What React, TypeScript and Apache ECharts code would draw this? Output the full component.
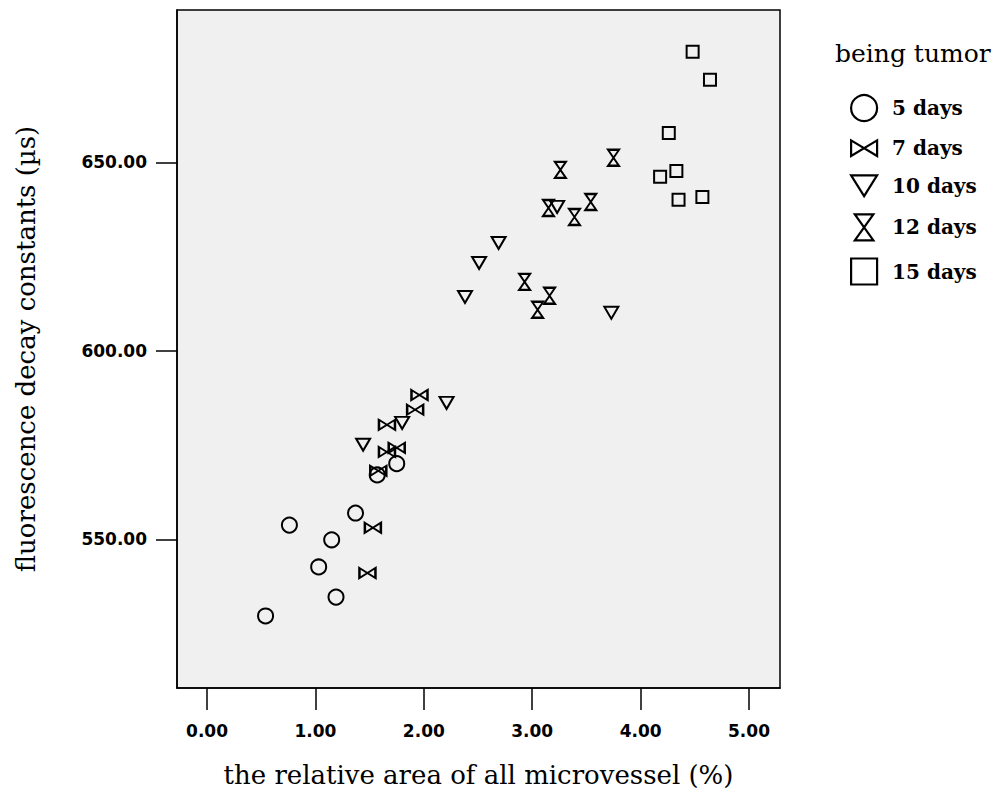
import React, { useEffect, useRef } from "react";
import * as echarts from "echarts";

const seriesNames = ["5 days", "7 days", "10 days", "12 days", "15 days"];

const days5: [number, number][] = [
  [0.54, 529.7], [0.76, 553.8], [1.15, 549.9], [1.03, 542.7],
  [1.19, 534.7], [1.37, 557.0], [1.57, 567.1], [1.75, 570.1],
];
const days7: [number, number][] = [
  [1.96, 588.3], [1.92, 584.4], [1.66, 580.4], [1.66, 573.2],
  [1.75, 574.3], [1.58, 568.2], [1.53, 553.1], [1.48, 541.1],
];
const days10: [number, number][] = [
  [2.21, 586.2], [1.80, 580.9], [1.44, 575.1], [2.69, 628.6],
  [2.51, 623.3], [2.38, 614.3], [3.23, 638.2], [3.73, 610.1],
];
const days12: [number, number][] = [
  [3.26, 648.0], [3.75, 651.2], [3.15, 637.9], [3.39, 635.5],
  [3.54, 639.5], [2.93, 618.3], [3.16, 614.6], [3.05, 610.9],
];
const days15: [number, number][] = [
  [4.48, 679.3], [4.64, 671.9], [4.26, 657.8], [4.33, 647.7],
  [4.18, 646.2], [4.35, 640.1], [4.57, 640.8],
];

const xTicks = [0, 1, 2, 3, 4, 5];
const yTicks = [550, 600, 650];

const BOWTIE = "path://M0,0 L20,12 L20,0 L0,12 Z";
const TRI_DOWN = "path://M0,0 L20,0 L10,16 Z";
const HOURGLASS = "path://M0,0 L20,0 L0,28 L20,28 Z";

export default function App() {
  const ref = useRef<HTMLDivElement>(null);
  useEffect(() => {
    if (!ref.current) return;
    const chart = echarts.init(ref.current, null, { renderer: "svg" });
    const mk = { color: "transparent", borderColor: "#000", borderWidth: 2, opacity: 1 };
    const sData = [days5, days7, days10, days12, days15];
    const symbols = ["circle", BOWTIE, TRI_DOWN, HOURGLASS, "rect"];
    const sizes: any[] = [15, [16, 10], [14, 12], [11, 16], 12];
    chart.setOption({
      animation: false,
      backgroundColor: "#fff",
      title: {
        text: "being tumor",
        left: 830,
        top: 36,
        textStyle: { fontFamily: "DejaVu Serif", fontWeight: "normal", fontSize: 25, color: "#000" },
      },
      legend: {
        orient: "vertical",
        left: 845,
        top: 89,
        itemWidth: 26,
        itemHeight: 26,
        itemGap: 16,
        data: seriesNames,
        itemStyle: { color: "transparent", borderColor: "#000", borderWidth: 2.2, opacity: 1 },
        textStyle: { fontFamily: "DejaVu Serif", fontWeight: "bold", fontSize: 20, color: "#000", padding: [0, 0, 0, 10] },
      },
      grid: {
        left: 177,
        top: 10,
        right: 226,
        bottom: 105,
        show: true,
        backgroundColor: "#f0f0f0",
        borderColor: "#000",
        borderWidth: 1.5,
      },
      xAxis: {
        type: "value",
        min: -0.277,
        max: 5.286,
        splitLine: { show: false },
        axisLine: { show: true, onZero: false, lineStyle: { color: "#000", width: 1.5 } },
        axisTick: { show: true, customValues: xTicks, length: 22, lineStyle: { color: "#000", width: 1.5 } },
        axisLabel: {
          customValues: xTicks,
          formatter: (v: number) => v.toFixed(2),
          margin: 34,
          fontFamily: "DejaVu Sans",
          fontWeight: "bold",
          fontSize: 17,
          color: "#000",
        },
        name: "the relative area of all microvessel (%)",
        nameLocation: "middle",
        nameGap: 74,
        nameTextStyle: { fontFamily: "DejaVu Serif", fontSize: 26, color: "#000" },
      },
      yAxis: {
        type: "value",
        min: 510.6,
        max: 690.4,
        splitLine: { show: false },
        axisLine: { show: true, onZero: false, lineStyle: { color: "#000", width: 1.5 } },
        axisTick: { show: true, customValues: yTicks, length: 21, lineStyle: { color: "#000", width: 1.5 } },
        axisLabel: {
          customValues: yTicks,
          formatter: (v: number) => v.toFixed(2),
          margin: 30,
          fontFamily: "DejaVu Sans",
          fontWeight: "bold",
          fontSize: 17,
          color: "#000",
        },
        name: "fluorescence decay constants (\u00b5s)",
        nameLocation: "middle",
        nameGap: 138,
        nameTextStyle: { fontFamily: "DejaVu Serif", fontSize: 26, color: "#000" },
      },
      series: sData.map((d, i) => ({
        type: "scatter",
        name: seriesNames[i],
        data: d,
        symbol: symbols[i],
        symbolSize: sizes[i],
        itemStyle: mk,
        emphasis: { disabled: true },
      })),
    });
    return () => chart.dispose();
  }, []);
  return (
    <div
      ref={ref}
      style={{ position: "fixed", left: 0, top: 0, width: 1006, height: 793 }}
    />
  );
}
